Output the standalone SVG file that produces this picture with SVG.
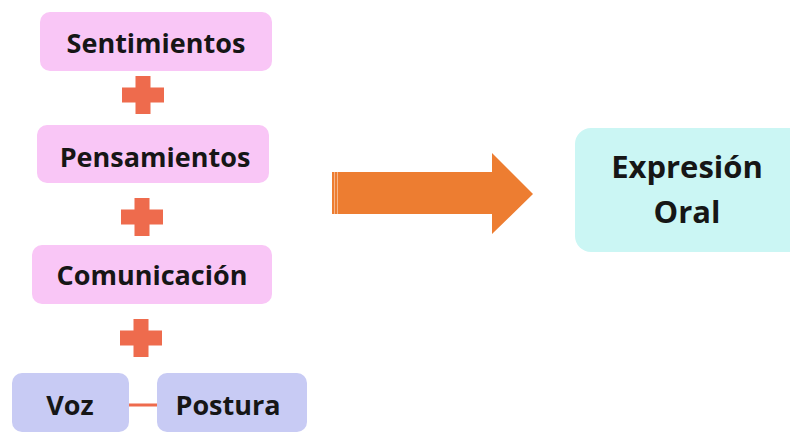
<svg xmlns="http://www.w3.org/2000/svg" width="790" height="434" viewBox="0 0 790 434">
<style>
.pink{fill:#F9C6F6}
.lav{fill:#C8CBF4}
.cyan{fill:#CBF6F4}
.plus{fill:#EE6B4D}
text{font-family:"Open Sans","Noto Sans","Liberation Sans",sans-serif;font-weight:bold;font-size:27px;fill:#161616;text-anchor:middle}
.big{font-size:31px}
</style>
<defs>
<path id="cross" d="M-7.5,-19 h15 v11.5 h13.5 v15 h-13.5 v11.5 h-15 v-11.5 h-13.5 v-15 h13.5 z"/>
</defs>
<rect width="790" height="434" fill="#ffffff"/>
<g id="sentimientos"><rect class="pink" x="40" y="12" width="232" height="59" rx="10"/><text x="156" y="53">Sentimientos</text></g>
<g id="pensamientos"><rect class="pink" x="37" y="125" width="232" height="58" rx="10"/><text x="155" y="167">Pensamientos</text></g>
<g id="comunicacion"><rect class="pink" x="32" y="245" width="240" height="59" rx="10"/><text x="152" y="285">Comunicación</text></g>
<g id="voz"><rect class="lav" x="12" y="373" width="117" height="59" rx="10"/><text x="70" y="415">Voz</text></g>
<g id="postura"><rect class="lav" x="157" y="373" width="150" height="59" rx="10"/><text x="228" y="415">Postura</text></g>
<g id="expresion"><rect class="cyan" x="575" y="128" width="230" height="124" rx="16"/><text class="big" x="687" y="178">Expresión</text><text class="big" x="687" y="223">Oral</text></g>
<g id="connectors">
<use href="#cross" class="plus" x="143" y="95"/>
<use href="#cross" class="plus" x="142" y="217"/>
<use href="#cross" class="plus" x="141" y="338"/>
<rect x="129" y="403.5" width="28" height="3" fill="#EE6B4D"/>
<path d="M332,172 H492 V153 L533,194 L492,234 V214 H332 Z" fill="#ED7D31"/>
<rect x="334" y="172" width="1" height="42" fill="#F6B58A"/>
<rect x="337" y="172" width="1" height="42" fill="#F6B58A"/>
</g>
</svg>
